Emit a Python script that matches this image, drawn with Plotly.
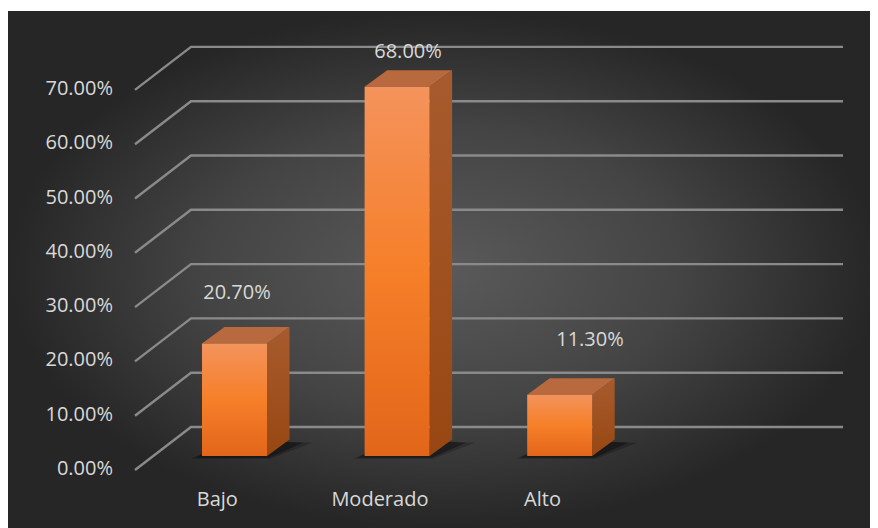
import plotly.graph_objects as go

# ---------------- data ----------------
categories = ["Bajo", "Moderado", "Alto"]
values = [20.70, 68.00, 11.30]
value_labels = ["20.70%", "68.00%", "11.30%"]
tick_values = [0, 10, 20, 30, 40, 50, 60, 70]
tick_labels = ["0.00%", "10.00%", "20.00%", "30.00%", "40.00%", "50.00%", "60.00%", "70.00%"]

# ---------------- layout constants (pixel geometry of the oblique view) ----------------
OFF = 8                      # page body margin
W, H = 878 - OFF, 528 - OFF
PX0, SX = 217.3 - OFF, 162.6  # pixel x of category 0 (label plane), pixels per category
PY0, SY = 470.0 - OFF, 5.43   # pixel y of 0 % (label plane), pixels per percent
XR = [(0 - PX0) / SX, (W - PX0) / SX]
YR = [(PY0 - H) / SY, PY0 / SY]

def px(p):
    return (p - OFF - PX0) / SX

def py(p):
    return (PY0 - (p - OFF)) / SY

def dx(p):
    return p / SX

def dy(p):
    return p / SY

BAR_SHIFT = (dx(17.2), dy(14.0))     # bar front plane relative to label plane
BAR_HALF = dx(32.5)
BAR_DEPTH = (dx(22.5), dy(16.5))
FLOOR_L = px(135)
FLOOR_R = px(843 - 56)
WALL = (dx(56), dy(43))
LABEL_NUDGE = [(0.121, 11.7), (0.173, 8.8), (0.292, 12.5)]

FONT = "Open Sans"
TXT = "#d9d9d9"

fig = go.Figure()

# background (radial gradient panel)
bx0, bx1 = XR[0], XR[1]
by0, by1 = YR[0], py(11)
fig.add_trace(go.Scatter(
    x=[bx0, bx1, bx1, bx0, bx0], y=[by0, by0, by1, by1, by0],
    mode="lines", line=dict(width=0), fill="toself",
    fillgradient=dict(type="radial", colorscale=[[0, "#5a5a5a"], [0.55, "#444444"], [1, "#262626"]]),
    hoverinfo="skip", showlegend=False))

# gridlines (front diagonal + back wall)
gx, gy = [], []
for v in tick_values:
    gx += [FLOOR_L, FLOOR_L + WALL[0], FLOOR_R + WALL[0], None]
    gy += [v, v + WALL[1], v + WALL[1], None]
fig.add_trace(go.Scatter(x=gx, y=gy, mode="lines",
                         line=dict(color="#8a8a8a", width=2.4),
                         hoverinfo="skip", showlegend=False))

# bars
for i, v in enumerate(values):
    xl = i + BAR_SHIFT[0] - BAR_HALF
    xr = i + BAR_SHIFT[0] + BAR_HALF
    b = BAR_SHIFT[1]
    t = b + v
    ddx, ddy = BAR_DEPTH
    # shadows
    for k, a in ((1.0, 0.22), (0.6, 0.35)):
        fig.add_trace(go.Scatter(
            x=[xl - 0.07 * k, xr + 0.02 * k, xr + ddx + 0.14 * k, xl + ddx + 0.05, xl - 0.07 * k],
            y=[b - 0.5 * k, b - 0.5 * k, b + ddy * 0.8, b + ddy, b - 0.5 * k],
            mode="lines", line=dict(width=0), fill="toself",
            fillcolor=f"rgba(0,0,0,{a})", hoverinfo="skip", showlegend=False))
    # side face
    fig.add_trace(go.Scatter(
        x=[xr, xr + ddx, xr + ddx, xr, xr], y=[b, b + ddy, t + ddy, t, b],
        mode="lines", line=dict(width=0), fill="toself",
        fillgradient=dict(type="vertical", colorscale=[[0, "#984712"], [1, "#a75b2e"]]),
        hoverinfo="skip", showlegend=False))
    # top face
    fig.add_trace(go.Scatter(
        x=[xl, xr, xr + ddx, xl + ddx, xl], y=[t, t, t + ddy, t + ddy, t],
        mode="lines", line=dict(width=0), fill="toself", fillcolor="#b8693d",
        hoverinfo="skip", showlegend=False))
    # front face
    fig.add_trace(go.Scatter(
        x=[xl, xr, xr, xl, xl], y=[b, b, t, t, b],
        mode="lines", line=dict(width=0), fill="toself",
        fillgradient=dict(type="vertical",
                          colorscale=[[0, "#e2661a"], [0.5, "#f67f29"], [1, "#f4935c"]]),
        hoverinfo="skip", showlegend=False))

# value labels
fig.add_trace(go.Scatter(
    x=[i + LABEL_NUDGE[i][0] for i in range(len(values))],
    y=[v + LABEL_NUDGE[i][1] for i, v in enumerate(values)],
    mode="text", text=value_labels, textposition="middle center",
    textfont=dict(family=FONT, size=20, color=TXT),
    hoverinfo="skip", showlegend=False, cliponaxis=False))

# y tick labels
fig.add_trace(go.Scatter(
    x=[px(113)] * len(tick_values), y=tick_values,
    mode="text", text=tick_labels, textposition="middle left",
    textfont=dict(family=FONT, size=20, color=TXT),
    hoverinfo="skip", showlegend=False, cliponaxis=False))

# category labels
fig.add_trace(go.Scatter(
    x=list(range(len(categories))), y=[py(501)] * len(categories),
    mode="text", text=categories, textposition="middle center",
    textfont=dict(family=FONT, size=20, color=TXT),
    hoverinfo="skip", showlegend=False, cliponaxis=False))

fig.update_layout(
    width=W, height=H, margin=dict(l=0, r=0, t=0, b=0),
    paper_bgcolor="white", plot_bgcolor="white",
    xaxis=dict(range=XR, visible=False, fixedrange=True),
    yaxis=dict(range=YR, visible=False, fixedrange=True),
    showlegend=False,
)

fig.write_html("out.html")
